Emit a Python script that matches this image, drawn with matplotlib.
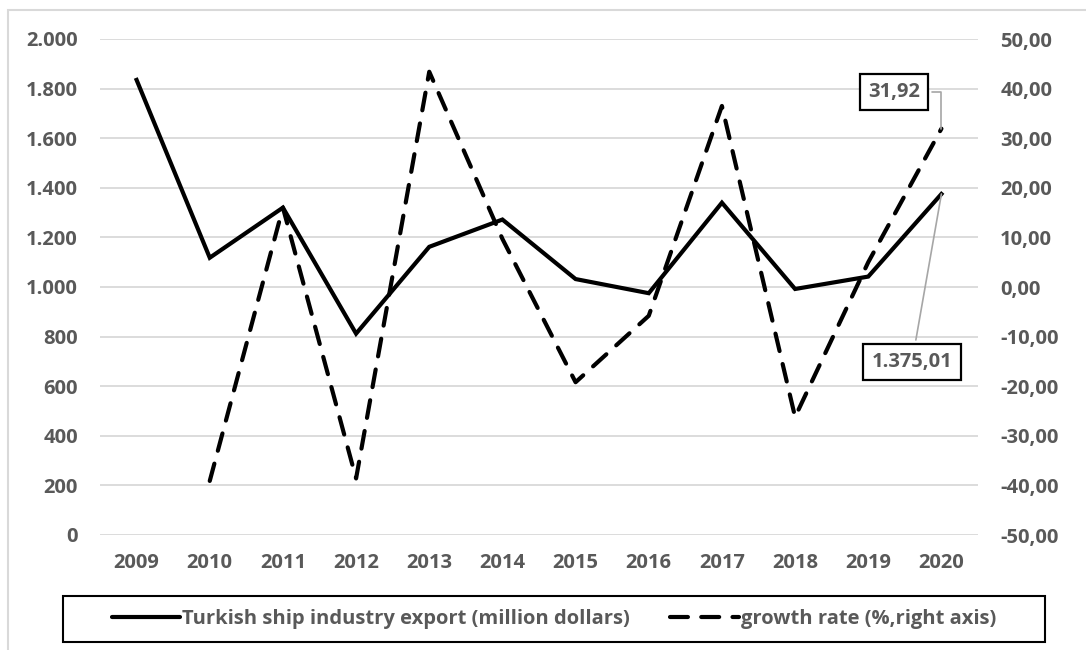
import matplotlib
matplotlib.use("Agg")
import matplotlib.pyplot as plt
from matplotlib.ticker import FuncFormatter, FixedLocator
from matplotlib.patches import Rectangle
from matplotlib.lines import Line2D

years = ["2009", "2010", "2011", "2012", "2013", "2014", "2015", "2016", "2017", "2018", "2019", "2020"]
export_musd = [1835, 1118, 1320, 812, 1162, 1272, 1032, 975, 1340, 992, 1042, 1375.01]
growth_pct = [None, -39.1, 16.0, -38.6, 43.4, 9.7, -19.2, -5.8, 36.5, -26.2, 5.0, 31.92]

left_ticks = [0, 200, 400, 600, 800, 1000, 1200, 1400, 1600, 1800, 2000]
right_ticks = [-50, -40, -30, -20, -10, 0, 10, 20, 30, 40, 50]

label_export = "Turkish ship industry export (million dollars)"
label_growth = "growth rate (%,right axis)"

W, H = 1086, 650
fig = plt.figure(figsize=(W / 100, H / 100), dpi=100)
FONT = "Open Sans"
TXT = "#595959"
FS = 14.5

# outer chart border (partially cropped)
fig.patches.append(Rectangle((8 / W, -0.1), 1.2, 1.1 - 10 / H, transform=fig.transFigure,
                             fill=False, edgecolor="#d9d9d9", lw=1.5))

ax = fig.add_axes([100 / W, (H - 535) / H, 878 / W, 496 / H])
ax2 = ax.twinx()

x = list(range(len(years)))
ax.plot(x, export_musd, color="black", lw=3.0, solid_joinstyle="miter", zorder=3)
gx = [i for i, g in zip(x, growth_pct) if g is not None]
gy = [g for g in growth_pct if g is not None]
ax2.plot(gx, gy, color="black", lw=3.0, dashes=(4.3, 3.2), dash_capstyle="round", zorder=3)

ax.set_xlim(-0.5, len(years) - 0.5)
ax.set_ylim(0, 2000)
ax2.set_ylim(-50, 50)
ax.xaxis.set_major_locator(FixedLocator(x))
ax.set_xticklabels(years)
ax.yaxis.set_major_locator(FixedLocator(left_ticks))
ax2.yaxis.set_major_locator(FixedLocator(right_ticks))
ax.yaxis.set_major_formatter(FuncFormatter(lambda v, p: f"{int(v):,}".replace(",", ".")))
ax2.yaxis.set_major_formatter(FuncFormatter(lambda v, p: f"{v:.2f}".replace(".", ",")))

ax.grid(axis="y", color="#d9d9d9", lw=1.3)
ax.set_axisbelow(True)
for a in (ax, ax2):
    for s in a.spines.values():
        s.set_visible(False)
ax.tick_params(axis="both", length=0)
ax2.tick_params(axis="both", length=0)
ax.tick_params(axis="y", pad=16)
ax.tick_params(axis="x", pad=13)
ax2.tick_params(axis="y", pad=16)
for lab in ax.get_xticklabels() + ax.get_yticklabels() + ax2.get_yticklabels():
    lab.set_fontfamily(FONT)
    lab.set_fontweight("bold")
    lab.set_fontsize(FS)
    lab.set_color(TXT)
for lab in ax2.get_yticklabels():
    lab.set_horizontalalignment("left")

# data labels
ax2.annotate(f"{growth_pct[-1]:.2f}".replace(".", ","), xy=(x[-1], growth_pct[-1]),
             xytext=(894, H - 92), textcoords="figure pixels",
             ha="center", va="center", fontfamily=FONT, fontweight="bold", fontsize=FS, color=TXT,
             bbox=dict(boxstyle="square,pad=0.42", fc="white", ec="black", lw=1.6),
             arrowprops=dict(arrowstyle="-", color="#a6a6a6", lw=1.2,
                             connectionstyle="angle,angleA=0,angleB=90,rad=0", shrinkB=0),
             zorder=5)
ax.annotate("1.375,01", xy=(x[-1], export_musd[-1]),
            xytext=(912, H - 362), textcoords="figure pixels",
            ha="center", va="center", fontfamily=FONT, fontweight="bold", fontsize=FS, color=TXT,
            bbox=dict(boxstyle="square,pad=0.42", fc="white", ec="black", lw=1.6),
            arrowprops=dict(arrowstyle="-", color="#a6a6a6", lw=1.2, shrinkB=0),
            zorder=5)

# legend
fig.patches.append(Rectangle((63 / W, (H - 642) / H), 982 / W, 46 / H, transform=fig.transFigure,
                             fill=False, edgecolor="black", lw=1.5))
handles = [Line2D([], [], color="black", lw=3.0, solid_capstyle="round"),
           Line2D([], [], color="black", lw=3.0, dashes=(4.3, 3.2), dash_capstyle="round")]
leg = fig.legend(handles, [label_export, label_growth], loc="center",
                 bbox_to_anchor=(554 / W, (H - 619) / H), ncol=2, frameon=False,
                 handlelength=3.4, handletextpad=0.1, columnspacing=2.0,
                 prop=dict(family=FONT, weight="bold", size=FS))
for t in leg.get_texts():
    t.set_color(TXT)

fig.savefig("out.png", dpi=100)
